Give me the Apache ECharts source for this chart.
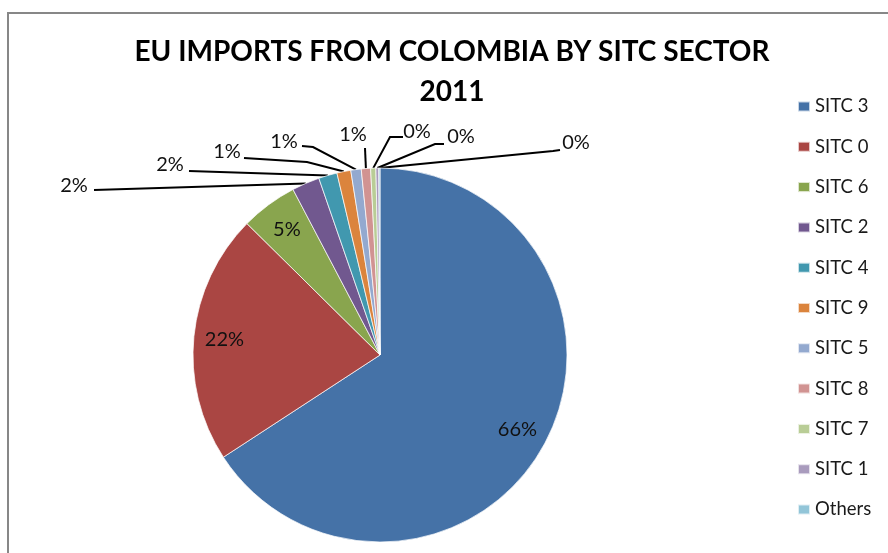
<!DOCTYPE html>
<html>
<head>
<meta charset="utf-8">
<title>EU imports from Colombia by SITC sector, 2011</title>
<script src="https://cdn.jsdelivr.net/npm/echarts@6/dist/echarts.min.js"></script>
<style>
  html, body { margin: 0; padding: 0; background: #fff; }
  #chart { width: 888px; height: 553px; }
</style>
</head>
<body>
<div id="chart"></div>
<script>
// Sector shares of EU imports from Colombia, 2011 (percent of total)
const sectors = ['SITC 3', 'SITC 0', 'SITC 6', 'SITC 2', 'SITC 4', 'SITC 9', 'SITC 5', 'SITC 8', 'SITC 7', 'SITC 1', 'Others'];
const shares  = [65.8, 21.6, 4.9, 2.4, 1.6, 1.2, 0.9, 0.8, 0.45, 0.25, 0.1];

const titleLines = ['EU IMPORTS FROM COLOMBIA BY SITC SECTOR', '2011'];

// Office-style slice palette
const palette = ['#4572A7', '#AA4643', '#89A54E', '#71588F', '#4198AF', '#DB843D',
                 '#93A9CF', '#D19392', '#B9CD96', '#A99BBD', '#92C5D8'];

const FONT = 'Lato, "Open Sans", sans-serif';
const PIE_CX = 380, PIE_CY = 355, PIE_R = 187;
// inside labels sit at this fraction of the radius
const INSIDE_RATIO = 0.81;
const INSIDE_COUNT = 3;

// callout placement for the thin slices: label centre, then leader-line points
// running from the slice edge towards the label (last point touches the label)
const callouts = {
  3:  { at: [74, 186],  path: [[94, 190]] },
  4:  { at: [170, 165], path: [[189, 171]] },
  5:  { at: [227, 152], path: [[307, 162], [244, 158]] },
  6:  { at: [284, 142], path: [[313, 147], [302, 146]] },
  7:  { at: [353, 135], path: [[365, 148]] },
  8:  { at: [417, 132], path: [[390, 137], [403, 137]] },
  9:  { at: [461, 137], path: [[435, 144], [444, 144]] },
  10: { at: [576, 143], path: [[553, 151], [560, 150]] }
};

const pieData = sectors.map(function (name, i) {
  const item = { name: name, value: shares[i], itemStyle: { color: palette[i] } };
  if (i >= INSIDE_COUNT) {
    item.label = { position: 'outside' };
    item.labelLine = { show: true };
  }
  return item;
});

const chart = echarts.init(document.getElementById('chart'), null, { renderer: 'canvas' });

chart.setOption({
  backgroundColor: '#ffffff',
  animation: false,
  graphic: [{
    type: 'rect',
    shape: { x: 8, y: 13, width: 1000, height: 1000 },
    style: { fill: 'none', stroke: '#878787', lineWidth: 2 },
    silent: true,
    z: -1
  }],
  title: {
    text: titleLines.join('\n'),
    left: 452,
    top: 32,
    padding: 0,
    textAlign: 'center',
    textStyle: {
      fontFamily: FONT,
      fontWeight: 'bold',
      fontSize: 28,
      lineHeight: 40,
      color: '#000'
    }
  },
  legend: {
    orient: 'vertical',
    left: 797,
    top: 97,
    padding: 0,
    itemWidth: 12,
    itemHeight: 10,
    itemGap: 21.3,
    icon: 'rect',
    data: sectors,
    textStyle: { fontFamily: FONT, fontSize: 18.5, lineHeight: 18, color: '#1a1a1a' }
  },
  series: [{
    type: 'pie',
    center: [PIE_CX, PIE_CY],
    radius: PIE_R,
    startAngle: 90,
    clockwise: true,
    avoidLabelOverlap: false,
    data: pieData,
    itemStyle: { borderColor: 'rgba(255,255,255,0.7)', borderWidth: 1 },
    label: {
      show: true,
      position: 'inside',
      fontFamily: FONT,
      fontSize: 20,
      color: '#111',
      formatter: function (p) { return Math.round(p.value) + '%'; }
    },
    labelLine: { show: false, lineStyle: { color: '#000', width: 2 } },
    labelLayout: function (p) {
      const c = callouts[p.dataIndex];
      if (!c) {
        const lx = p.labelRect.x + p.labelRect.width / 2;
        const ly = p.labelRect.y + p.labelRect.height / 2;
        const k = INSIDE_RATIO / 0.5;
        return { x: PIE_CX + (lx - PIE_CX) * k, y: PIE_CY + (ly - PIE_CY) * k,
                 align: 'center', verticalAlign: 'middle' };
      }
      const out = { x: c.at[0], y: c.at[1], align: 'center', verticalAlign: 'middle' };
      if (p.labelLinePoints) out.labelLinePoints = [p.labelLinePoints[0]].concat(c.path);
      return out;
    }
  }]
});
</script>
</body>
</html>
